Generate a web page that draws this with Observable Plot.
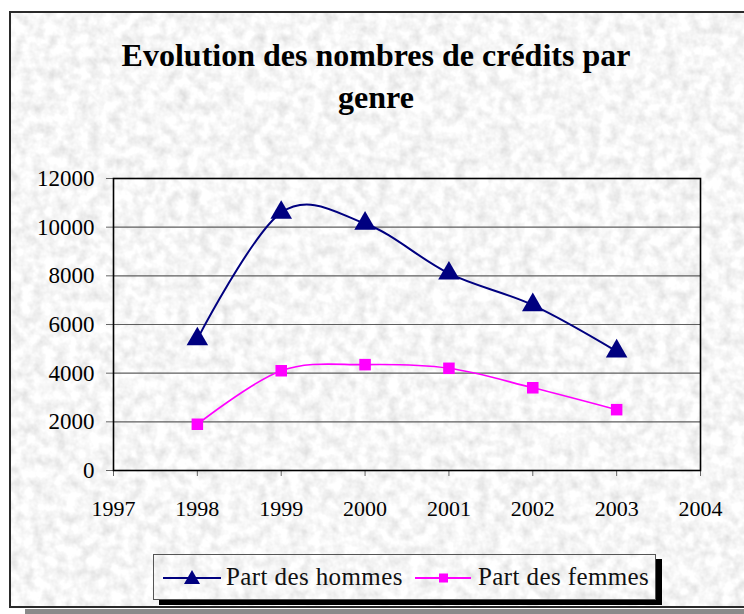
<!DOCTYPE html>
<html><head><meta charset="utf-8">
<script src="https://cdn.jsdelivr.net/npm/d3@7"></script>
<script src="https://cdn.jsdelivr.net/npm/@observablehq/plot@0.6"></script>
<style>
html,body{margin:0;padding:0;background:#fff;}
#wrap{position:relative;width:744px;height:614px;overflow:hidden;background:#fff;font-family:"Liberation Serif","Times New Roman",serif;}
#shadow{position:absolute;left:25px;top:609px;width:760px;height:10px;background:#8a8a8a;}
#frame{position:absolute;left:9px;top:11px;width:760px;height:597px;border:2px solid #2a2a2a;box-sizing:border-box;overflow:hidden;}
#tex{position:absolute;left:0;top:0;}
#title{position:absolute;left:0;width:752px;top:34px;text-align:center;font-weight:bold;font-size:32px;line-height:42px;color:#000;}
#chart{position:absolute;left:0;top:160px;}
#chart svg text{font-family:"Liberation Serif","Times New Roman",serif;}
#legend{position:absolute;left:153px;top:554px;width:503px;height:46px;box-sizing:border-box;border:1.5px solid #555;box-shadow:6px 5px 0 #000;}
.lt{position:absolute;top:7px;font-size:25px;letter-spacing:0.4px;line-height:30px;color:#111;white-space:nowrap;}
.ls{position:absolute;top:12px;}
</style></head>
<body>
<div id="wrap">
  <div id="shadow"></div>
  <div id="frame">
    <svg id="tex" width="760" height="600"><filter id="n" x="0" y="0" width="100%" height="100%"><feTurbulence type="fractalNoise" baseFrequency="0.09" numOctaves="3" seed="3"/><feColorMatrix type="matrix" values="0.45 0 0 0 0.7  0.45 0 0 0 0.7  0.45 0 0 0 0.7  0 0 0 0 1"/></filter><rect width="100%" height="100%" filter="url(#n)"/></svg>
  </div>
  <div id="title">Evolution des nombres de crédits par<br>genre</div>
  <div id="chart"></div>
  <div id="legend">
    <svg class="ls" style="left:9px" width="60" height="22"><line x1="0" x2="58" y1="11" y2="11" stroke="#000080" stroke-width="2"/><path d="M29,3 L37,17 L21,17 Z" fill="#000080"/></svg>
    <div class="lt" style="left:72px">Part des hommes</div>
    <svg class="ls" style="left:261px" width="60" height="22"><line x1="0" x2="56" y1="11" y2="11" stroke="#ff00ff" stroke-width="2"/><rect x="24" y="6.5" width="9" height="9" fill="#ff00ff"/></svg>
    <div class="lt" style="left:324px">Part des femmes</div>
  </div>
</div>
<script>
const years = [1998, 1999, 2000, 2001, 2002, 2003];
const hommes = [5400, 10600, 10150, 8100, 6800, 4900];
const femmes = [1900, 4100, 4350, 4200, 3400, 2500];
const xTicks = [1997, 1998, 1999, 2000, 2001, 2002, 2003, 2004];
const yTicks = [0, 2000, 4000, 6000, 8000, 10000, 12000];
const gridTicks = [2000, 4000, 6000, 8000, 10000];

const rowsH = years.map((y, i) => ({year: y, value: hommes[i]}));
const rowsF = years.map((y, i) => ({year: y, value: femmes[i]}));

const chart = Plot.plot({
  width: 744, height: 390,
  marginTop: 18, marginBottom: 80, marginLeft: 113, marginRight: 44,
  style: {background: "transparent", fontFamily: "Liberation Serif, Times New Roman, serif", fontSize: "23px", color: "#000", overflow: "visible"},
  x: {domain: [1997, 2004]},
  y: {domain: [0, 12000]},
  marks: [
    Plot.ruleY(gridTicks, {stroke: "#5e5e5e", strokeWidth: 1.2}),
    Plot.axisX({ticks: xTicks, tickFormat: d => String(d), tickSize: 6, tickPadding: 24, label: null, stroke: "#666", fill: "#000", fontSize: 22}),
    Plot.axisY({ticks: yTicks, tickFormat: d => String(d), tickSize: 7, tickPadding: 12, label: null, stroke: "#666", fill: "#000", fontSize: 23}),
    Plot.frame({stroke: "#000", strokeWidth: 1.6}),
    Plot.line(rowsH, {x: "year", y: "value", stroke: "#000080", strokeWidth: 2, curve: "cardinal"}),
    Plot.line(rowsF, {x: "year", y: "value", stroke: "#ff00ff", strokeWidth: 1.6, curve: "cardinal"}),
    Plot.dot(rowsH, {x: "year", y: "value", symbol: "triangle", r: 8, fill: "#000080", stroke: "none"}),
    Plot.dot(rowsF, {x: "year", y: "value", symbol: "square", r: 6.5, fill: "#ff00ff", stroke: "none"})
  ]
});
document.getElementById("chart").appendChild(chart);
</script>
</body></html>
